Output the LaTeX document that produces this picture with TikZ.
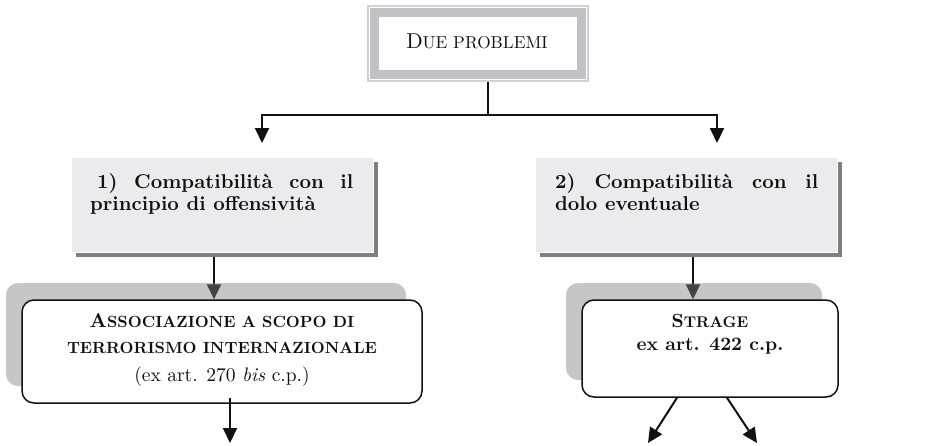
\documentclass[tikz,border=0pt]{standalone}
\usepackage{fontspec}
\setmainfont{lmroman10-regular.otf}[BoldFont=lmroman10-bold.otf, ItalicFont=lmroman10-italic.otf, BoldItalicFont=lmroman10-bolditalic.otf, SmallCapsFont=lmromancaps10-regular.otf]
\usetikzlibrary{arrows.meta,shadows}
\definecolor{ink}{HTML}{111111}
\definecolor{boxfill}{HTML}{EBEBED}
\definecolor{band}{HTML}{C2C2C6}
\definecolor{frameline}{HTML}{D2D2D4}
\definecolor{darkshadow}{HTML}{7F7F7F}
\newcommand\smc[2]{{\fontsize{#1}{#1}\selectfont #2}}
\newcommand\qfont{\fontsize{20}{22}\selectfont\bfseries}
\pgfdeclarelayer{bg}
\pgfsetlayers{bg,main}
\begin{document}
\begin{tikzpicture}[x=1pt,y=-1pt,
  conn/.style={draw=ink, line width=2pt},
  arr/.style={conn, -{Triangle[length=15pt,width=14pt]}},
  qbox/.style={rectangle, fill=boxfill, draw=white, line width=1pt, inner sep=0pt,
    drop shadow={shadow xshift=5pt, shadow yshift=-5pt, fill=darkshadow, opacity=1}},
  rbox/.style={rectangle, rounded corners=12pt, fill=white, draw=ink, line width=1.5pt, inner sep=0pt,
    drop shadow={shadow xshift=-16pt, shadow yshift=17pt, fill=gray, opacity=0.45}},
  txt/.style={inner sep=0pt, text=ink}
]
\useasboundingbox (0,0) rectangle (952,445);

% top frame
\node[draw=frameline, line width=1.2pt, fill=white, minimum width=220pt, minimum height=75pt, inner sep=0pt] (top) at (478,43.5) {};
\draw[draw=band, line width=9pt] ([shift={(7.5,7.5)}]top.north west) rectangle ([shift={(-7.5,-7.5)}]top.south east);
\node[txt, anchor=base] (tt) at (477,48) {\fontsize{21.5}{21.5}\selectfont D\smc{17.3}{UE PROBLEMI}};

% question boxes
\node[qbox, minimum width=302pt, minimum height=95pt] (b1) at (222,204.5) {};
\node[txt, anchor=base west] (t1) at (90,188) {\parbox[t]{263pt}{\qfont\makebox[263pt][s]{\hspace*{7pt}1)\hfill Compatibilità\hfill con\hfill il}\\principio di offensività}};

\node[qbox, minimum width=302pt, minimum height=95pt] (b2) at (686,204.5) {};
\node[txt, anchor=base west] (t2) at (555,188) {\parbox[t]{263pt}{\qfont\makebox[263pt][s]{2)\hfill Compatibilità\hfill con\hfill il}\\dolo eventuale}};

% crime boxes
\node[rbox, minimum width=400pt, minimum height=103pt] (b3) at (222,351.5) {};
\node[txt, anchor=base] (t3) at (222,327) {\parbox[t]{380pt}{\centering\bfseries\fontsize{20}{26}\selectfont A\smc{16.2}{SSOCIAZIONE A SCOPO DI}\\\smc{16.2}{TERRORISMO INTERNAZIONALE}\\[2.4pt]\mdseries\fontsize{19.5}{26}\selectfont (ex art. 270 \textit{bis} c.p.)}};

\node[rbox, minimum width=256pt, minimum height=97pt] (b4) at (710,348.5) {};
\node[txt, anchor=base] (t4) at (710,327) {\parbox[t]{240pt}{\centering\bfseries\fontsize{19}{23}\selectfont S\smc{15.5}{TRAGE}\\ex art. 422 c.p.}};

% connectors
\coordinate (split) at (488,115);
\coordinate (a1) at (262,143);
\coordinate (a2) at (717,143);
\coordinate (e1) at (230,443);
\coordinate (e2) at (648,443);
\coordinate (e3) at (757,443);

\draw[conn] (top.south -| split) -- (split);
\draw[arr] (split) -| (a1);
\draw[arr] (split) -| (a2);

\begin{pgfonlayer}{bg}
\draw[arr] ([xshift=-8pt]b1.south) -- ([xshift=-8pt]b1.south |- b3.north);
\draw[arr] ([xshift=7pt]b2.south) -- ([xshift=7pt]b2.south |- b4.north);
\end{pgfonlayer}

\draw[arr] ([xshift=8pt,yshift=6pt]b3.south) -- (e1);
\draw[arr] ([xshift=-33pt]b4.south) -- (e2);
\draw[arr] ([xshift=17pt]b4.south) -- (e3);
\end{tikzpicture}
\end{document}
